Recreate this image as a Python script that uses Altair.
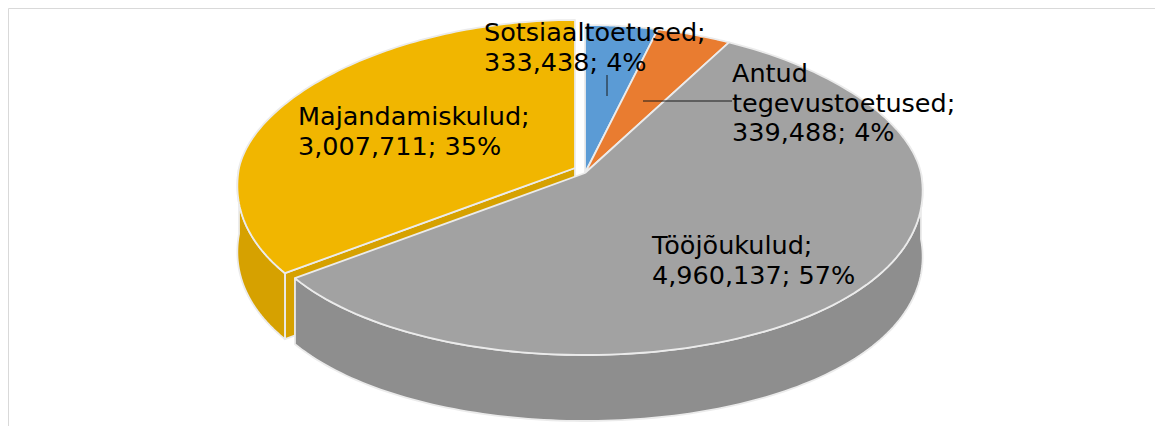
import altair as alt
import pandas as pd

# ---- data ----
categories = ["Sotsiaaltoetused", "Antud tegevustoetused", "Tööjõukulud", "Majandamiskulud"]
values = [333438, 339488, 4960137, 3007711]
label_names = ["Sotsiaaltoetused", "Antud\ntegevustoetused", "Tööjõukulud", "Majandamiskulud"]

# ---- styles / layout ----
top_colors = ["#5B9BD5", "#E97C30", "#A2A2A2", "#F1B600"]
side_colors = ["#4A84BA", "#C8661F", "#8E8E8E", "#D6A100"]
explode = {"Majandamiskulud": (-10, -5)}
label_pos = {  # left x, first baseline y (plot coordinates)
    "Sotsiaaltoetused": (476, 33),
    "Antud tegevustoetused": (724, 74),
    "Tööjõukulud": (644, 246),
    "Majandamiskulud": (290, 117),
}
leaders = [  # x, y, x2, y2
    (599, 67, 599, 88),
    (635, 93, 724, 93),
]

W, H = 1147, 418
CX, CY = 577, 165
RX, RYB, RYF, K = 336, 148, 182, 0.1
DEPTH = 66
N = 120
EDGE = "#EBEBEB"

df = pd.DataFrame({
    "cat": categories,
    "value": values,
    "idx": list(range(len(categories))),
    "topc": top_colors,
    "sidec": side_colors,
    "dx": [explode.get(c, (0, 0))[0] for c in categories],
    "dy": [explode.get(c, (0, 0))[1] for c in categories],
})

total = sum(values)
lab_df = pd.DataFrame({
    "cat": categories,
    "text": [f"{n};\n{v:,}; {round(v / total * 100):.0f}%" for n, v in zip(label_names, values)],
    "lx": [label_pos[c][0] for c in categories],
    "ly": [label_pos[c][1] for c in categories],
})
lead_df = pd.DataFrame(leaders, columns=["x", "y", "x2", "y2"])

xs = alt.Scale(domain=[0, W], nice=False, zero=False)
ys = alt.Scale(domain=[0, H], nice=False, zero=False, reverse=True)


def rim_x(t):
    return f"({CX}+datum.dx+{RX}*sin({t})*(1-{K}*cos({t})))"


def rim_y(t):
    return f"({CY}+datum.dy-(cos({t})>0?{RYB}:{RYF})*cos({t}))"


base = (
    alt.Chart(df)
    .transform_joinaggregate(total="sum(value)")
    .transform_window(cum="sum(value)", sort=[alt.SortField("idx")], frame=[None, 0])
    .transform_calculate(a0="2*PI*(datum.cum-datum.value)/datum.total")
    .transform_calculate(a1="2*PI*datum.cum/datum.total")
)


def poly(chart, color_field):
    return chart.mark_line(strokeWidth=1.8, strokeJoin="round").encode(
        x=alt.X("px:Q", scale=xs, axis=None),
        y=alt.Y("py:Q", scale=ys, axis=None),
        order=alt.Order("k:Q"),
        detail="cat:N",
        fill=alt.Fill(f"{color_field}:N", scale=None),
        stroke=alt.value(EDGE),
    )


# top faces
tops = (
    base.transform_calculate(seq=f"sequence(-1,{N + 2})")
    .transform_flatten(["seq"], as_=["k"])
    .transform_calculate(t=f"datum.a0+(datum.a1-datum.a0)*clamp(datum.k,0,{N})/{N}")
    .transform_calculate(apex=f"datum.k<0||datum.k>{N}")
    .transform_calculate(px=f"datum.apex?({CX}+datum.dx):{rim_x('datum.t')}")
    .transform_calculate(py=f"datum.apex?({CY}+datum.dy):{rim_y('datum.t')}")
)
tops = poly(tops, "topc")

# outer side walls (front half only)
sides = (
    base.transform_calculate(s0="max(datum.a0, PI/2)")
    .transform_calculate(s1="min(datum.a1, 3*PI/2)")
    .transform_filter("datum.s1>datum.s0")
    .transform_calculate(seq=f"sequence(0,{2 * N + 3})")
    .transform_flatten(["seq"], as_=["k"])
    .transform_calculate(
        t=f"datum.k<={N}?datum.s0+(datum.s1-datum.s0)*datum.k/{N}:"
          f"(datum.k<={2 * N + 1}?datum.s1-(datum.s1-datum.s0)*(datum.k-{N + 1})/{N}:datum.s0)"
    )
    .transform_calculate(bot=f"datum.k>{N}&&datum.k<={2 * N + 1}")
    .transform_calculate(px=rim_x("datum.t"))
    .transform_calculate(py=f"{rim_y('datum.t')}+(datum.bot?{DEPTH}:0)")
)
sides = poly(sides, "sidec")


def face_layer(angle_field, cond):
    c = (
        base.transform_calculate(fa=f"datum.{angle_field}")
        .transform_filter(cond)
        .transform_calculate(seq="sequence(0,5)")
        .transform_flatten(["seq"], as_=["k"])
        .transform_calculate(
            px=f"(datum.k==1||datum.k==2)?{rim_x('datum.fa')}:({CX}+datum.dx)"
        )
        .transform_calculate(
            py=f"datum.k==1?{rim_y('datum.fa')}:(datum.k==2?{rim_y('datum.fa')}+{DEPTH}:"
               f"(datum.k==3?{CY}+datum.dy+{DEPTH}:{CY}+datum.dy))"
        )
    )
    return poly(c, "sidec")


start_faces = face_layer("a0", "sin(datum.a0)<-0.000001")
end_faces = face_layer("a1", "sin(datum.a1)>0.000001")

leader_rules = alt.Chart(lead_df).mark_rule(color="#1a1a1a", strokeWidth=1).encode(
    x=alt.X("x:Q", scale=xs, axis=None),
    y=alt.Y("y:Q", scale=ys, axis=None),
    x2="x2:Q",
    y2="y2:Q",
)

labels = alt.Chart(lab_df).mark_text(
    align="left", baseline="alphabetic", font="DejaVu Sans", fontSize=25.5,
    lineBreak="\n", lineHeight=29.5, color="#000000",
).encode(
    x=alt.X("lx:Q", scale=xs, axis=None),
    y=alt.Y("ly:Q", scale=ys, axis=None),
    text="text:N",
)

chart = (
    alt.layer(end_faces, start_faces, sides, tops, leader_rules, labels)
    .properties(width=W, height=H, padding=0, autosize="none")
    .configure_view(stroke="#D9D9D9", strokeWidth=1)
)

chart.save("out.html", embed_options={"renderer": "svg", "actions": False})
